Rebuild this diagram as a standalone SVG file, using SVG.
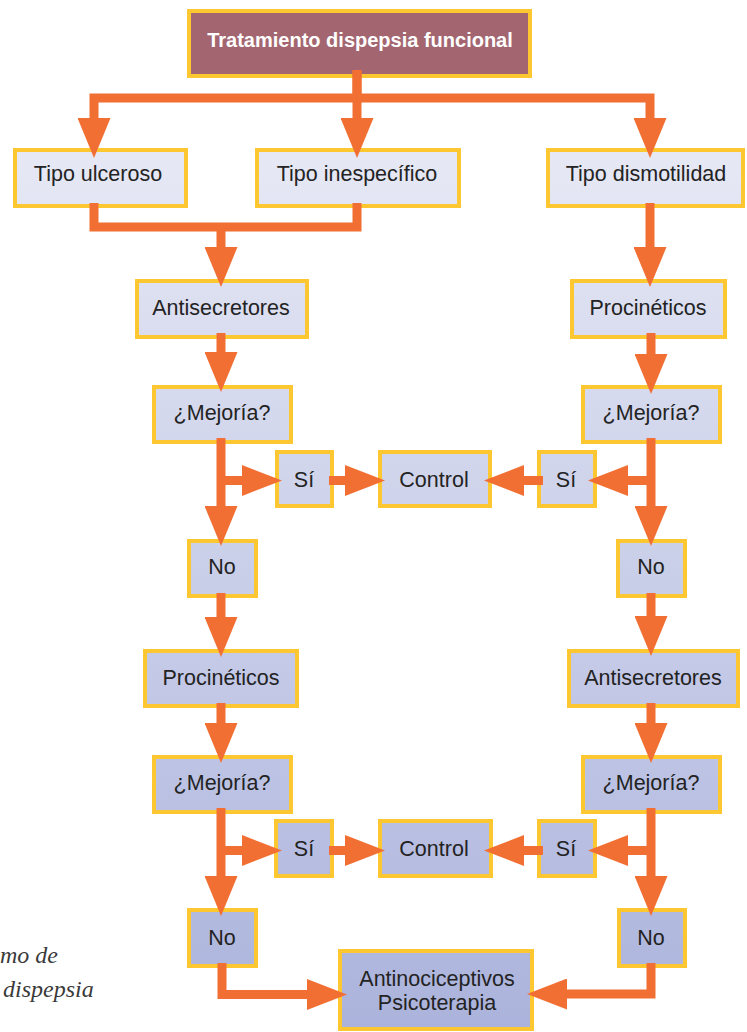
<svg xmlns="http://www.w3.org/2000/svg" width="747" height="1032" viewBox="0 0 747 1032">
<defs>
<linearGradient id="fillGrad" gradientUnits="userSpaceOnUse" x1="0" y1="140" x2="0" y2="1032">
<stop offset="0" stop-color="#e7e9f5"/>
<stop offset="1" stop-color="#abb3dc"/>
</linearGradient>
<marker id="arr" markerUnits="userSpaceOnUse" markerWidth="40" markerHeight="33" refX="1" refY="16.5" orient="auto" viewBox="0 0 40 33">
<path d="M0,0 L40,16.5 L0,33 Z" fill="#f26f33"/>
</marker>
<marker id="arrh" markerUnits="userSpaceOnUse" markerWidth="40" markerHeight="31" refX="1" refY="15.5" orient="auto" viewBox="0 0 40 31">
<path d="M0,0 L40,15.5 L0,31 Z" fill="#f26f33"/>
</marker>
</defs>
<style>
.box{fill:url(#fillGrad);stroke:#fdc731;stroke-width:4}
.title{fill:#a36670;stroke:#fdc731;stroke-width:4}
.t{font-family:"Liberation Sans",Arial,sans-serif;font-size:21.5px;fill:#232323;text-anchor:middle}
.tt{font-family:"Liberation Sans",Arial,sans-serif;font-size:20px;font-weight:bold;fill:#ffffff;text-anchor:middle}
.cap{font-family:"Liberation Serif","Times New Roman",serif;font-style:italic;font-size:24px;fill:#3a3a3a}
.c{fill:none;stroke:#f26f33;stroke-width:9;stroke-linejoin:miter;stroke-linecap:butt}
.cv{marker-end:url(#arr)}
.ch{marker-end:url(#arrh)}
</style>

<text class="cap" x="0" y="963">mo de</text>
<text class="cap" x="3" y="997">dispepsia</text>

<g id="n-title"><rect class="title" x="189" y="11" width="341" height="65"/><text class="tt" x="360" y="47">Tratamiento dispepsia funcional</text></g>
<g id="n-ulceroso"><rect class="box" x="15" y="150" width="171" height="56"/><text class="t" x="98" y="181">Tipo ulceroso</text></g>
<g id="n-inespecifico"><rect class="box" x="257" y="150" width="202" height="56"/><text class="t" x="357" y="181">Tipo inespecífico</text></g>
<g id="n-dismotilidad"><rect class="box" x="548" y="150" width="195" height="56"/><text class="t" x="646" y="181">Tipo dismotilidad</text></g>
<g id="n-antisecretores1"><rect class="box" x="137" y="281" width="170" height="56"/><text class="t" x="221" y="315">Antisecretores</text></g>
<g id="n-procineticos1"><rect class="box" x="572" y="281" width="153" height="56"/><text class="t" x="648" y="315">Procinéticos</text></g>
<g id="n-mejoria1l"><rect class="box" x="154" y="387" width="137" height="55"/><text class="t" x="222" y="420">¿Mejoría?</text></g>
<g id="n-mejoria1r"><rect class="box" x="583" y="387" width="137" height="55"/><text class="t" x="651" y="420">¿Mejoría?</text></g>
<g id="n-si1l"><rect class="box" x="277" y="452" width="55" height="54"/><text class="t" x="304" y="487">Sí</text></g>
<g id="n-control1"><rect class="box" x="380" y="452" width="110" height="54"/><text class="t" x="434" y="487">Control</text></g>
<g id="n-si1r"><rect class="box" x="539" y="452" width="56" height="54"/><text class="t" x="566" y="487">Sí</text></g>
<g id="n-no1l"><rect class="box" x="189" y="541" width="67" height="55"/><text class="t" x="222" y="574">No</text></g>
<g id="n-no1r"><rect class="box" x="618" y="541" width="67" height="55"/><text class="t" x="651" y="574">No</text></g>
<g id="n-procineticos2"><rect class="box" x="145" y="651" width="152" height="55"/><text class="t" x="221" y="685">Procinéticos</text></g>
<g id="n-antisecretores2"><rect class="box" x="569" y="651" width="169" height="55"/><text class="t" x="653" y="685">Antisecretores</text></g>
<g id="n-mejoria2l"><rect class="box" x="154" y="757" width="137" height="55"/><text class="t" x="222" y="790">¿Mejoría?</text></g>
<g id="n-mejoria2r"><rect class="box" x="583" y="757" width="137" height="55"/><text class="t" x="651" y="790">¿Mejoría?</text></g>
<g id="n-si2l"><rect class="box" x="276" y="821" width="56" height="55"/><text class="t" x="304" y="856">Sí</text></g>
<g id="n-control2"><rect class="box" x="380" y="821" width="111" height="55"/><text class="t" x="434" y="856">Control</text></g>
<g id="n-si2r"><rect class="box" x="539" y="821" width="56" height="55"/><text class="t" x="566" y="856">Sí</text></g>
<g id="n-no2l"><rect class="box" x="189" y="910" width="67" height="56"/><text class="t" x="222" y="945">No</text></g>
<g id="n-no2r"><rect class="box" x="619" y="910" width="66" height="56"/><text class="t" x="651" y="945">No</text></g>
<g id="n-antinociceptivos"><rect class="box" x="340" y="951" width="192" height="78"/><text class="t" x="437" y="986">Antinociceptivos</text><text class="t" x="437" y="1010">Psicoterapia</text></g>

<g id="connectors">
<path class="c cv" d="M357,70 V98 H94 V119"/>
<path class="c cv" d="M357,70 V119"/>
<path class="c cv" d="M357,98 H650 V119"/>
<path class="c" d="M94,203 V227 H357 V203"/>
<path class="c cv" d="M221,227 V248"/>
<path class="c cv" d="M221,333 V353"/>
<path class="c cv" d="M221,438 V507"/>
<path class="c ch" d="M221,480.5 H243"/>
<path class="c ch" d="M329,480.5 H346"/>
<path class="c ch" d="M543,480.5 H523"/>
<path class="c cv" d="M650,203 V248"/>
<path class="c cv" d="M651,333 V355"/>
<path class="c cv" d="M651,438 V507"/>
<path class="c ch" d="M651,480.5 H627"/>
<path class="c cv" d="M221,593 V618"/>
<path class="c cv" d="M651,593 V617"/>
<path class="c cv" d="M221,703 V724"/>
<path class="c cv" d="M651,703 V724"/>
<path class="c cv" d="M221,808 V877"/>
<path class="c ch" d="M221,850.5 H243"/>
<path class="c ch" d="M329,850.5 H346"/>
<path class="c ch" d="M543,850.5 H523"/>
<path class="c cv" d="M651,808 V877"/>
<path class="c ch" d="M651,850.5 H627"/>
<path class="c ch" d="M222,963 V994.5 H308"/>
<path class="c ch" d="M651,963 V994 H566"/>
</g>
</svg>
